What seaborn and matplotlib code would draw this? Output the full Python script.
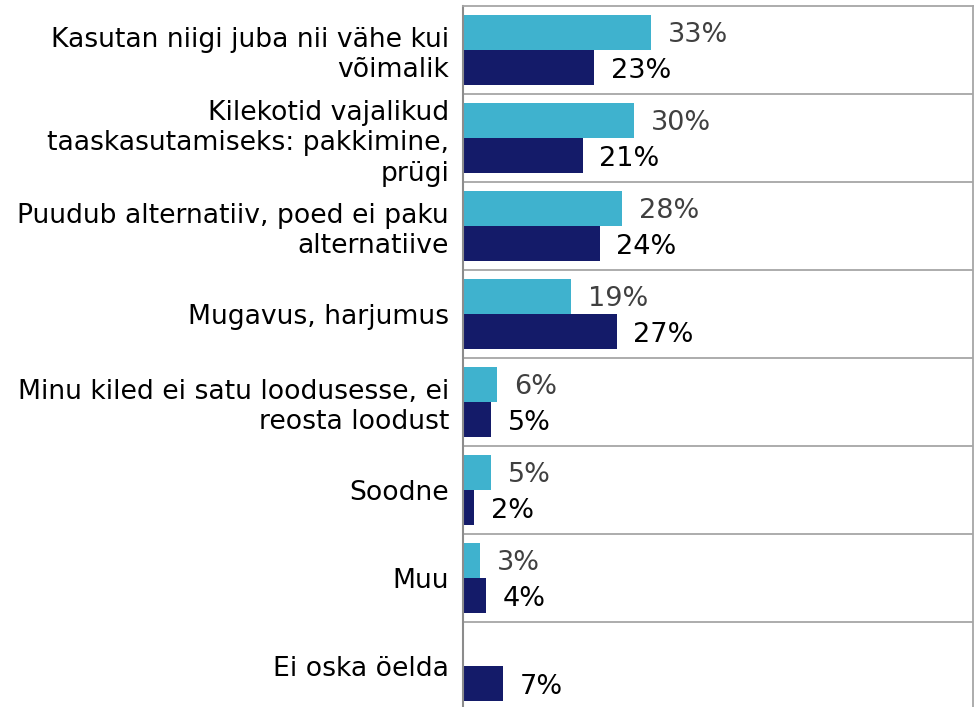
import pandas as pd
import numpy as np
import matplotlib
matplotlib.use("Agg")
import matplotlib.pyplot as plt
import seaborn as sns

# Andmed
categories = [
    "Kasutan niigi juba nii vähe kui\nvõimalik",
    "Kilekotid vajalikud\ntaaskasutamiseks: pakkimine,\nprügi",
    "Puudub alternatiiv, poed ei paku\nalternatiive",
    "Mugavus, harjumus",
    "Minu kiled ei satu loodusesse, ei\nreosta loodust",
    "Soodne",
    "Muu",
    "Ei oska öelda",
]
series_names = ["Seeria 1", "Seeria 2"]
values_light = [33, 30, 28, 19, 6, 5, 3, np.nan]
values_dark = [23, 21, 24, 27, 5, 2, 4, 7]

colors = ["#3FB2CE", "#141B69"]
label_colors = ["#404040", "#000000"]

df = pd.DataFrame({
    "kategooria": categories * 2,
    "seeria": [series_names[0]] * len(categories) + [series_names[1]] * len(categories),
    "vaartus": values_light + values_dark,
})

sns.set_theme(style="white")
plt.rcParams["font.family"] = ["DejaVu Sans"]

fig = plt.figure(figsize=(9.75, 7.07), dpi=100)
ax = fig.add_axes([463 / 975, -3 / 707, 510 / 975, 704 / 707])

sns.barplot(data=df, y="kategooria", x="vaartus", hue="seeria",
            order=categories, hue_order=series_names,
            palette=colors, width=0.8, orient="h", saturation=1,
            legend=False, ax=ax, linewidth=0)

# Väärtuste sildid (veidi allapoole nihutatud)
for container, col in zip(ax.containers, label_colors):
    labels = ["" if np.isnan(v) else f"{v:.0f}%" for v in container.datavalues]
    texts = ax.bar_label(container, labels=labels, padding=12, fontsize=19.5, color=col)
    for t in texts:
        t.xyann = (t.xyann[0], t.xyann[1] - 2.2)

ax.set_xlim(0, 89.6)
ax.set_ylim(len(categories) - 0.5, -0.5)
ax.set_xlabel("")
ax.set_ylabel("")
ax.set_xticks([])
ax.tick_params(axis="y", length=0, pad=10, labelsize=19.2, labelcolor="black")
for lab in ax.get_yticklabels():
    lab.set_horizontalalignment("right")
    lab.set_multialignment("right")
    lab.set_linespacing(1.22)

# Eraldusjooned kategooriate vahel
ax.set_yticks(np.arange(len(categories) - 1) + 0.5, minor=True)
ax.grid(which="minor", axis="y", color="#A6A6A6", linewidth=1.3)
ax.set_axisbelow(True)

for side in ["top", "right"]:
    ax.spines[side].set_color("#A6A6A6")
    ax.spines[side].set_linewidth(1.3)
ax.spines["left"].set_color("#8C8C8C")
ax.spines["left"].set_linewidth(1.5)
ax.spines["bottom"].set_visible(False)

fig.savefig("out.png", dpi=100)
